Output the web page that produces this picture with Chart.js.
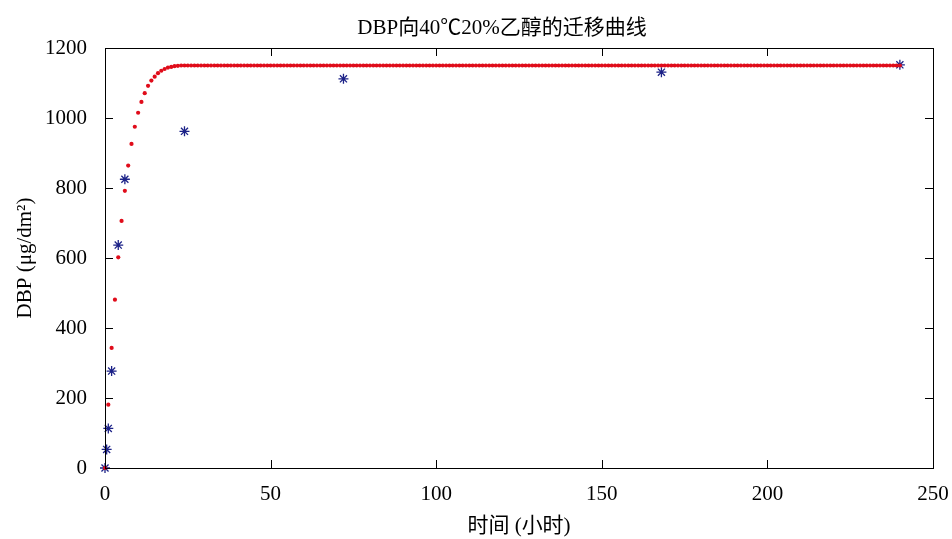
<!DOCTYPE html>
<html>
<head>
<meta charset="utf-8">
<script src="https://cdn.jsdelivr.net/npm/chart.js@4.4.0/dist/chart.umd.min.js"></script>
<style>
  html, body { margin: 0; padding: 0; background: #fff; }
  #wrap { width: 952px; height: 539px; }
</style>
</head>
<body>
<div id="wrap"><canvas id="migrationChart" width="952" height="539"></canvas></div>
<script>
// fitted curve, one point per hour
const curveHours = [
  0, 1, 2, 3, 4, 5, 6, 7, 8, 9,
  10, 11, 12, 13, 14, 15, 16, 17, 18, 19,
  20, 21, 22, 23, 24, 25, 26, 27, 28, 29,
  30, 31, 32, 33, 34, 35, 36, 37, 38, 39,
  40, 41, 42, 43, 44, 45, 46, 47, 48, 49,
  50, 51, 52, 53, 54, 55, 56, 57, 58, 59,
  60, 61, 62, 63, 64, 65, 66, 67, 68, 69,
  70, 71, 72, 73, 74, 75, 76, 77, 78, 79,
  80, 81, 82, 83, 84, 85, 86, 87, 88, 89,
  90, 91, 92, 93, 94, 95, 96, 97, 98, 99,
  100, 101, 102, 103, 104, 105, 106, 107, 108, 109,
  110, 111, 112, 113, 114, 115, 116, 117, 118, 119,
  120, 121, 122, 123, 124, 125, 126, 127, 128, 129,
  130, 131, 132, 133, 134, 135, 136, 137, 138, 139,
  140, 141, 142, 143, 144, 145, 146, 147, 148, 149,
  150, 151, 152, 153, 154, 155, 156, 157, 158, 159,
  160, 161, 162, 163, 164, 165, 166, 167, 168, 169,
  170, 171, 172, 173, 174, 175, 176, 177, 178, 179,
  180, 181, 182, 183, 184, 185, 186, 187, 188, 189,
  190, 191, 192, 193, 194, 195, 196, 197, 198, 199,
  200, 201, 202, 203, 204, 205, 206, 207, 208, 209,
  210, 211, 212, 213, 214, 215, 216, 217, 218, 219,
  220, 221, 222, 223, 224, 225, 226, 227, 228, 229,
  230, 231, 232, 233, 234, 235, 236, 237, 238, 239,
  240
];
const curveDBP = [
  0, 181, 343, 481, 602, 706, 792, 864, 926, 975,
  1015, 1046, 1071, 1092, 1107, 1118, 1128, 1135, 1140, 1144,
  1146, 1148, 1149, 1150, 1150, 1150, 1150, 1150, 1150, 1150,
  1150, 1150, 1150, 1150, 1150, 1150, 1150, 1150, 1150, 1150,
  1150, 1150, 1150, 1150, 1150, 1150, 1150, 1150, 1150, 1150,
  1150, 1150, 1150, 1150, 1150, 1150, 1150, 1150, 1150, 1150,
  1150, 1150, 1150, 1150, 1150, 1150, 1150, 1150, 1150, 1150,
  1150, 1150, 1150, 1150, 1150, 1150, 1150, 1150, 1150, 1150,
  1150, 1150, 1150, 1150, 1150, 1150, 1150, 1150, 1150, 1150,
  1150, 1150, 1150, 1150, 1150, 1150, 1150, 1150, 1150, 1150,
  1150, 1150, 1150, 1150, 1150, 1150, 1150, 1150, 1150, 1150,
  1150, 1150, 1150, 1150, 1150, 1150, 1150, 1150, 1150, 1150,
  1150, 1150, 1150, 1150, 1150, 1150, 1150, 1150, 1150, 1150,
  1150, 1150, 1150, 1150, 1150, 1150, 1150, 1150, 1150, 1150,
  1150, 1150, 1150, 1150, 1150, 1150, 1150, 1150, 1150, 1150,
  1150, 1150, 1150, 1150, 1150, 1150, 1150, 1150, 1150, 1150,
  1150, 1150, 1150, 1150, 1150, 1150, 1150, 1150, 1150, 1150,
  1150, 1150, 1150, 1150, 1150, 1150, 1150, 1150, 1150, 1150,
  1150, 1150, 1150, 1150, 1150, 1150, 1150, 1150, 1150, 1150,
  1150, 1150, 1150, 1150, 1150, 1150, 1150, 1150, 1150, 1150,
  1150, 1150, 1150, 1150, 1150, 1150, 1150, 1150, 1150, 1150,
  1150, 1150, 1150, 1150, 1150, 1150, 1150, 1150, 1150, 1150,
  1150, 1150, 1150, 1150, 1150, 1150, 1150, 1150, 1150, 1150,
  1150, 1150, 1150, 1150, 1150, 1150, 1150, 1150, 1150, 1150,
  1150
];

// measured points
const measuredHours = [0, 0.5, 1, 2, 4, 6, 24, 72, 168, 240];
const measuredDBP = [0, 53, 113, 277, 637, 825, 962, 1112, 1131, 1152];

const xTicks = [0, 50, 100, 150, 200, 250];
const yTicks = [0, 200, 400, 600, 800, 1000, 1200];

const chartTitle = 'DBP向40℃20%乙醇的迁移曲线';

const serif = '"Liberation Serif", "Times New Roman", "Noto Sans CJK SC", serif';

const toPoints = (xs, ys) => xs.map((x, i) => ({ x: x, y: ys[i] }));

// frame + inward ticks on all four sides (MATLAB style), title over the axes box
const boxTicks = {
    id: 'boxTicks',
    afterDatasetsDraw(chart) {
        const { ctx, chartArea: a, scales } = chart;
        const len = 8;
        ctx.save();
        ctx.strokeStyle = '#000';
        ctx.lineWidth = 1;
        ctx.beginPath();
        scales.x.ticks.forEach(t => {
            const px = Math.round(scales.x.getPixelForValue(t.value)) + 0.5;
            ctx.moveTo(px, a.bottom); ctx.lineTo(px, a.bottom - len);
            ctx.moveTo(px, a.top); ctx.lineTo(px, a.top + len);
        });
        scales.y.ticks.forEach(t => {
            const py = Math.round(scales.y.getPixelForValue(t.value)) + 0.5;
            ctx.moveTo(a.left, py); ctx.lineTo(a.left + len, py);
            ctx.moveTo(a.right, py); ctx.lineTo(a.right - len, py);
        });
        ctx.stroke();
        ctx.strokeRect(Math.round(a.left) + 0.5, Math.round(a.top) + 0.5,
            Math.round(a.right - a.left), Math.round(a.bottom - a.top));

        ctx.fillStyle = '#000';
        ctx.font = '21px ' + serif;
        ctx.textAlign = 'center';
        ctx.textBaseline = 'middle';
        ctx.fillText(chartTitle, (a.left + a.right) / 2 - 17, a.top - 20);
        ctx.restore();
    }
};

new Chart(document.getElementById('migrationChart'), {
    type: 'scatter',
    data: {
        datasets: [
            {
                label: 'fit',
                data: toPoints(curveHours, curveDBP),
                pointStyle: 'circle',
                pointRadius: 2.1,
                pointBackgroundColor: '#e00c1a',
                pointBorderWidth: 0,
                clip: false
            },
            {
                label: 'measured',
                data: toPoints(measuredHours, measuredDBP),
                pointStyle: 'star',
                pointRadius: 5,
                pointBorderColor: '#1c2288',
                pointBorderWidth: 1.3,
                clip: false
            }
        ]
    },
    options: {
        responsive: false,
        animation: false,
        layout: { padding: { top: 48, right: 19 } },
        plugins: {
            legend: { display: false },
            tooltip: { enabled: false },
            title: { display: false }
        },
        scales: {
            x: {
                type: 'linear',
                min: 0,
                max: 250,
                afterBuildTicks: s => { s.ticks = xTicks.map(v => ({ value: v })); },
                afterFit: s => { s.height = 71; s.paddingLeft = 0; s.paddingRight = 0; },
                grid: { display: false },
                border: { display: false },
                ticks: { color: '#000', padding: 6, font: { family: serif, size: 21 } },
                title: {
                    display: true,
                    text: '时间 (小时)',
                    color: '#000',
                    font: { family: serif, size: 21 },
                    padding: { bottom: 0 }
                }
            },
            y: {
                type: 'linear',
                min: 0,
                max: 1200,
                afterBuildTicks: s => { s.ticks = yTicks.map(v => ({ value: v })); },
                afterFit: s => { s.width = 105; s.paddingTop = 0; s.paddingBottom = 0; },
                grid: { display: false },
                border: { display: false },
                ticks: {
                    color: '#000',
                    padding: 10,
                    font: { family: serif, size: 21 },
                    callback: v => String(v)
                },
                title: {
                    display: true,
                    text: 'DBP (μg/dm²)',
                    color: '#000',
                    font: { family: serif, size: 21 },
                    padding: { top: 13 }
                }
            }
        }
    },
    plugins: [boxTicks]
});
</script>
</body>
</html>
